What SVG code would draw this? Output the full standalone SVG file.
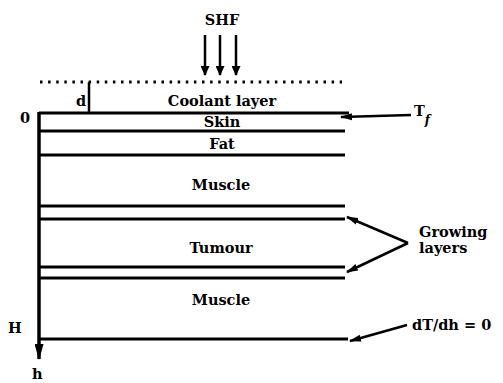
<svg xmlns="http://www.w3.org/2000/svg" width="503" height="383" viewBox="0 0 503 383">
<defs>
<marker id="ah" markerWidth="10" markerHeight="9" refX="9" refY="4.5" orient="auto" markerUnits="userSpaceOnUse">
<path d="M0,0 L10,4.5 L0,9 Z" fill="#000"/>
</marker>
<marker id="ahs" markerWidth="12" markerHeight="8" refX="11" refY="4" orient="auto" markerUnits="userSpaceOnUse">
<path d="M0,0.5 L12,4 L0,7.5 Z" fill="#000"/>
</marker>
<marker id="ahv" markerWidth="16" markerHeight="9" refX="15" refY="4.5" orient="auto" markerUnits="userSpaceOnUse">
<path d="M0,0 L16,4.5 L0,9 Z" fill="#000"/>
</marker>
</defs>
<style>
text { font-family: "DejaVu Serif", "Liberation Serif", serif; font-weight: bold; font-size: 14.5px; fill: #000; }
.c { text-anchor: middle; }
.layer { stroke: #000; stroke-width: 3; fill: none; }
.conn { stroke: #000; stroke-width: 2.5; fill: none; }
</style>
<rect width="503" height="383" fill="#fff"/>

<g id="shf">
<text class="c" x="222" y="25">SHF</text>
</g>

<g id="coolant">
<line x1="40" y1="82" x2="342" y2="82" stroke="#000" stroke-width="3" stroke-dasharray="2.5 5.6" stroke-linecap="butt"/>
<text class="c" x="222" y="106">Coolant layer</text>
<text x="76" y="106">d</text>
</g>

<g id="layers">
<line class="layer" x1="39" y1="113" x2="349" y2="113"/>
<line class="layer" x1="39" y1="131" x2="345" y2="131"/>
<line class="layer" x1="39" y1="155" x2="345" y2="155"/>
<line class="layer" x1="39" y1="206" x2="345" y2="206"/>
<line class="layer" x1="39" y1="219" x2="345" y2="219"/>
<line class="layer" x1="39" y1="267" x2="345" y2="267"/>
<line class="layer" x1="39" y1="278" x2="345" y2="278"/>
<line class="layer" x1="39" y1="339" x2="348" y2="339"/>
</g>

<g id="labels">
<text class="c" x="222" y="127">Skin</text>
<text class="c" x="222" y="149">Fat</text>
<text class="c" x="221" y="190">Muscle</text>
<text class="c" x="221" y="253">Tumour</text>
<text class="c" x="221" y="305">Muscle</text>
<text x="20" y="123">0</text>
<text x="8" y="333">H</text>
<text x="32" y="379">h</text>
<text x="414" y="116" font-size="17">T<tspan font-size="12" font-style="italic" dy="8">f</tspan></text>
<text x="419" y="237" font-size="15.5">Growing</text>
<text x="419" y="253" font-size="15.5">layers</text>
<text x="412" y="330" font-size="15.5">dT/dh = 0</text>
</g>

<g id="connectors">
<line class="conn" x1="205" y1="35" x2="205" y2="75" stroke-width="3" marker-end="url(#ah)"/>
<line class="conn" x1="220" y1="35" x2="220" y2="75" stroke-width="3" marker-end="url(#ah)"/>
<line class="conn" x1="236" y1="35" x2="236" y2="75" stroke-width="3" marker-end="url(#ah)"/>
<line class="conn" x1="89" y1="82" x2="89" y2="112"/>
<line x1="39" y1="112" x2="39" y2="359" stroke="#000" stroke-width="3.5" marker-end="url(#ahv)"/>
<line class="conn" x1="411" y1="115" x2="341" y2="117" marker-end="url(#ahs)"/>
<line class="conn" x1="408" y1="243" x2="347" y2="217" marker-end="url(#ahs)"/>
<line class="conn" x1="408" y1="243" x2="347" y2="272" marker-end="url(#ahs)"/>
<line class="conn" x1="407" y1="325" x2="350" y2="341" marker-end="url(#ahs)"/>
</g>
</svg>
